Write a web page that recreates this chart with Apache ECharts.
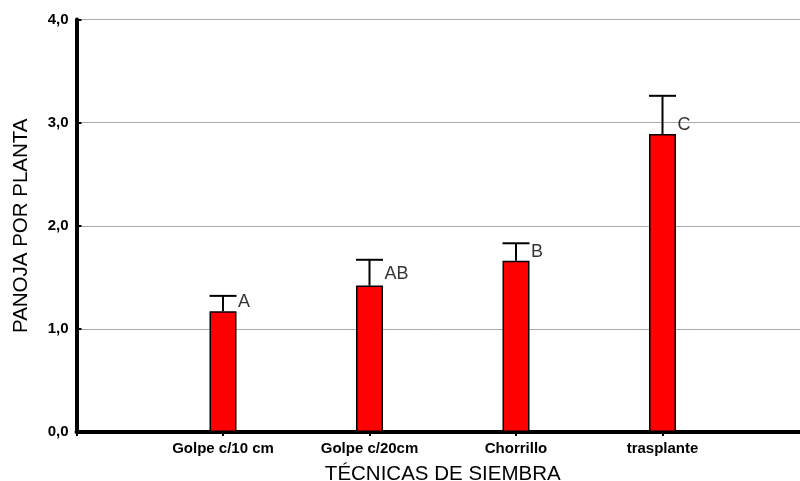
<!DOCTYPE html>
<html>
<head>
<meta charset="utf-8">
<script src="https://cdn.jsdelivr.net/npm/echarts@6/dist/echarts.min.js"></script>
<style>
  html, body { margin: 0; padding: 0; background: #fff; }
  #chart { width: 800px; height: 481px; }
</style>
</head>
<body>
<div id="chart"></div>
<script>
// datos
var categorias = ["", "Golpe c/10 cm", "Golpe c/20cm", "Chorrillo", "trasplante", ""];
var panoja = [null, 1.17, 1.42, 1.66, 2.89, null];
var errorSup = [null, 1.32, 1.67, 1.83, 3.26, null];
var letras = ["", "A", "AB", "B", "C", ""];
var letraY = [null, 1.26, 1.53, 1.75, 2.98, null];
var yTicks = [0, 1, 2, 3, 4];

var chart = echarts.init(document.getElementById("chart"));

var option = {
  animation: false,
  backgroundColor: "#fff",
  textStyle: { fontFamily: "Liberation Sans, Arial, sans-serif" },
  grid: { left: 76.5, right: -9, top: 19.5, bottom: 49, outerBoundsMode: "none", containLabel: false },
  xAxis: {
    type: "category",
    data: categorias,
    boundaryGap: false,
    name: "TÉCNICAS DE SIEMBRA",
    nameLocation: "middle",
    nameGap: 32,
    nameTextStyle: { fontSize: 20.5, color: "#000" },
    axisLine: { lineStyle: { color: "#000", width: 4 } },
    axisTick: { show: true, length: 4, lineStyle: { color: "#000", width: 2 } },
    axisLabel: { interval: 0, color: "#000", fontWeight: "bold", fontSize: 15, margin: 9 },
    splitLine: { show: false }
  },
  yAxis: {
    type: "value",
    min: yTicks[0],
    max: yTicks[yTicks.length - 1],
    interval: 1,
    name: "PANOJA POR PLANTA",
    nameLocation: "middle",
    nameGap: 45,
    nameTextStyle: { fontSize: 20.5, color: "#000" },
    axisLine: { show: true, lineStyle: { color: "#000", width: 4 } },
    axisTick: { show: true, inside: true, length: 5, lineStyle: { color: "#000", width: 2 } },
    axisLabel: {
      color: "#000", fontWeight: "bold", fontSize: 15, margin: 8,
      formatter: function (v) { return v.toFixed(1).replace(".", ","); }
    },
    splitLine: { show: true, lineStyle: { color: "#aaaaaa", width: 1 } }
  },
  series: [
    {
      type: "bar",
      data: panoja,
      barWidth: 27,
      itemStyle: { color: "#ff0000", borderColor: "#000", borderWidth: 1.5 },
      z: 3
    },
    {
      type: "custom",
      z: 2,
      data: categorias.map(function (c, i) { return [i, panoja[i], errorSup[i]]; }),
      renderItem: function (params, api) {
        if (api.value(1) == null || isNaN(api.value(1))) return;
        var base = api.coord([api.value(0), api.value(1)]);
        var top = api.coord([api.value(0), api.value(2)]);
        var hw = 13.5;
        return {
          type: "group",
          children: [
            { type: "line", shape: { x1: base[0], y1: base[1], x2: top[0], y2: top[1] },
              style: { stroke: "#000", lineWidth: 2 } },
            { type: "line", shape: { x1: top[0] - hw, y1: top[1], x2: top[0] + hw, y2: top[1] },
              style: { stroke: "#000", lineWidth: 2 } }
          ]
        };
      }
    },
    {
      type: "scatter",
      symbolSize: 0,
      data: letraY,
      z: 4,
      label: {
        show: true,
        position: "right",
        distance: 15,
        color: "#000",
        fontSize: 18,
        formatter: function (p) { return letras[p.dataIndex]; }
      }
    }
  ]
};

chart.setOption(option);
</script>
</body>
</html>
